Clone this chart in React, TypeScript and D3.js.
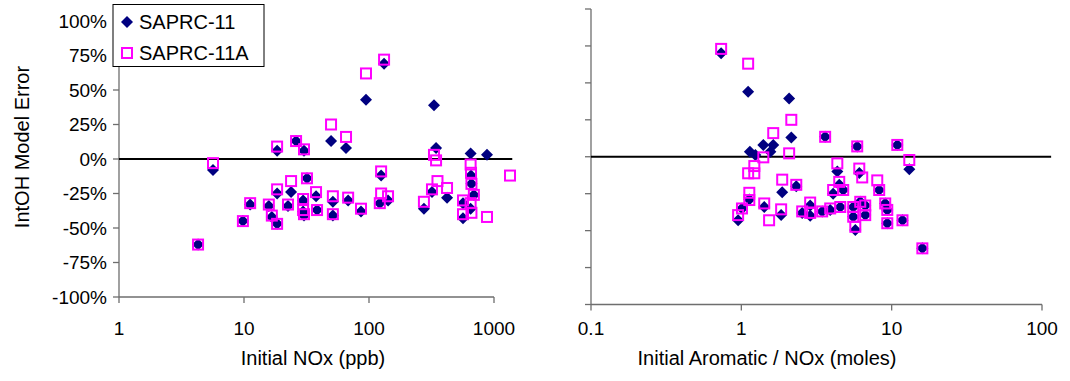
import React from "react";
import * as d3 from "d3";

// ---------- data ----------
// Left panel: Initial NOx (ppb) vs IntOH model error (%)
const leftNOx11 = [4.29, 5.65, 9.8, 11.2, 15.8, 16.7, 18.4, 18.4, 18.4, 23.8, 22.5, 26.1, 30.2, 31.9, 29.7, 29.7, 30.2, 37.7, 38.4, 49.7, 51.4, 51.4, 65.5, 68.1, 86.3, 94.6, 132, 125, 122, 142, 275, 319, 331, 344, 421, 565, 565, 650, 655, 660, 690, 650, 879];
const leftErr11 = [-62, -8, -45, -33, -34, -42, -47, 6, -25, -24, -34, 13, 6, -14, -30, -38, -41, -27, -37, 13, -31, -41, 8, -30, -38, 43, 69, -12, -32, -30, -36, -24, 39, 8, -28, -32, -43, 4, -12, -18, -26, -36, 3];
const leftNOx11A = [4.29, 5.65, 9.8, 11.2, 15.8, 16.7, 18.4, 18.4, 18.4, 23.8, 22.5, 26.1, 30.2, 31.9, 29.7, 29.7, 30.2, 37.7, 38.4, 49.7, 51.4, 51.4, 65.5, 68.1, 86.3, 94.6, 132, 125, 122, 125, 142, 275, 319, 331, 344, 353, 421, 565, 565, 650, 655, 660, 690, 650, 660, 879, 1343];
const leftErr11A = [-62, -3, -45, -32, -33, -41, -47, 9, -22, -16, -33, 13, 7, -14, -29, -37, -40, -24, -37, 25, -27, -40, 16, -28, -36, 62, 72, -9, -32, -25, -27, -31, -22, 3, -1, -16, -21, -30, -40, -4, -10, -18, -26, -32, -39, -42, -12];

// Right panel: Initial Aromatic / NOx (moles) vs IntOH model error (%)
const rightRatio11 = [0.734, 1.11, 2.08, 2.15, 3.61, 1.4, 1.63, 1.14, 1.24, 1.56, 1.87, 2.32, 1.13, 1.01, 0.952, 1.42, 1.84, 2.54, 5.9, 10.9, 4.35, 13.1, 6.09, 8.26, 4.48, 4.08, 4.76, 9.06, 9.35, 9.35, 11.8, 5.73, 3.45, 4.55, 5.55, 6.18, 6.67, 6.67, 5.55, 16.0, 2.87, 2.87, 3.9];
const rightErr11 = [70, 44, 39.5, 13, 13.5, 8, 8, 3.4, 1.2, 3.4, -24, -20, -29, -35, -43, -34, -39.5, -38, 7, 8, -10, -8.5, -11, -22.5, -19, -25, -22.5, -31.6, -36, -45, -43, -49.6, -37, -34, -34, -30.5, -33, -39.5, -40.6, -62, -33, -40, -36];
const rightRatio11A = [0.734, 1.11, 2.15, 1.63, 3.61, 1.4, 2.08, 1.22, 1.11, 1.22, 1.87, 2.32, 1.13, 1.13, 1.01, 0.952, 1.42, 1.53, 1.84, 2.54, 5.9, 10.9, 4.35, 13.1, 6.09, 6.37, 8.02, 8.26, 4.48, 4.08, 4.76, 9.06, 9.35, 9.35, 11.8, 5.73, 3.45, 3.9, 4.55, 5.55, 6.18, 6.67, 6.67, 5.55, 16.0, 2.87, 2.87];
const rightErr11A = [73, 63, 25, 16, 13.5, -0.4, 2.3, -6.3, -11.2, -11.2, -15.5, -19, -24.4, -29.3, -35, -39.5, -31.6, -43, -35.6, -37, 7, 8, -4.5, -2.2, -8, -14, -16, -22.5, -17, -22.5, -22.5, -31.6, -36, -45, -43, -47.4, -37, -35, -34, -34, -30.5, -33, -39.5, -40.6, -62, -31, -38];

const seriesNames = ["SAPRC-11", "SAPRC-11A"];
const yTicks = [-100, -75, -50, -25, 0, 25, 50, 75, 100];
const leftXTicks = [1, 10, 100, 1000];
const rightXTicks = [0.1, 1, 10, 100];
const leftZeroX = [1, 1400];
const rightZeroX = [0.1, 115];
const yTitle = "IntOH Model Error";
const leftXTitle = "Initial NOx (ppb)";
const rightXTitle = "Initial Aromatic / NOx (moles)";

// ---------- styling ----------
const FONT = "'Liberation Sans', Arial, sans-serif";
const NAVY = "#000080";
const MAGENTA = "#FF00FF";
const AXIS = "#6e6e6e";

const xL = d3.scaleLog().domain([1, 1000]).range([119, 494]);
const yL = d3.scaleLinear().domain([-100, 100]).range([297, 21]);
const xR = d3.scaleLog().domain([0.1, 100]).range([591, 1042]);
const yR = d3.scaleLinear().domain([-100, 100]).range([304.5, 9]);

const Diamond = ({ x, y }: { x: number; y: number }) => (
  <path d={`M${x},${y - 6}L${x + 6},${y}L${x},${y + 6}L${x - 6},${y}Z`} fill={NAVY} />
);
const Square = ({ x, y }: { x: number; y: number }) => (
  <rect x={x - 5} y={y - 5} width={10} height={10} fill="none" stroke={MAGENTA} strokeWidth={2} />
);

type Sc = any;

function Panel({ xs, ys, xTicks, zeroX, xVals11, yVals11, xVals11A, yVals11A, yLabels, title, titleX }: {
  xs: Sc; ys: Sc; xTicks: number[]; zeroX: number[]; xVals11: number[]; yVals11: number[];
  xVals11A: number[]; yVals11A: number[]; yLabels: boolean; title: string; titleX: number;
}) {
  const [x0, x1] = xs.range();
  const [yb, yt] = ys.range();
  const zeroLine = d3.line<number>().x((d) => xs(d)).y(() => ys(0));
  return (
    <g>
      {/* y axis */}
      <line x1={x0} x2={x0} y1={yt} y2={yb} stroke={AXIS} strokeWidth={1.3} />
      {yTicks.map((t) => (
        <g key={t}>
          <line x1={x0 - 6} x2={x0} y1={ys(t)} y2={ys(t)} stroke={AXIS} strokeWidth={1.3} />
          {yLabels && (
            <text x={107} y={ys(t)} dy="0.36em" textAnchor="end" fontSize={19} fontFamily={FONT} fill="#000">
              {`${t}%`}
            </text>
          )}
        </g>
      ))}
      {/* x axis */}
      <line x1={x0} x2={x1} y1={yb} y2={yb} stroke={AXIS} strokeWidth={1.3} />
      {xTicks.map((t) => (
        <g key={t}>
          <line x1={xs(t)} x2={xs(t)} y1={yb} y2={yb + 6} stroke={AXIS} strokeWidth={1.3} />
          <text x={xs(t)} y={335} textAnchor="middle" fontSize={19} fontFamily={FONT} fill="#000">
            {String(t)}
          </text>
        </g>
      ))}
      {/* zero line */}
      <path d={zeroLine(zeroX) || ""} stroke="#000" strokeWidth={2} fill="none" />
      {/* series */}
      {xVals11.map((v, i) => (
        <Diamond key={"d" + i} x={xs(v)} y={ys(yVals11[i])} />
      ))}
      {xVals11A.map((v, i) => (
        <Square key={"s" + i} x={xs(v)} y={ys(yVals11A[i])} />
      ))}
      <text x={titleX} y={365} textAnchor="middle" fontSize={20} fontFamily={FONT} fill="#000">
        {title}
      </text>
    </g>
  );
}

export default function App() {
  return (
    <svg width={1070} height={381} style={{ position: "absolute", left: 0, top: 0, background: "#fff" }}>
      <rect x={0} y={0} width={1070} height={381} fill="#fff" />
      <text
        x={28.5}
        y={147}
        transform="rotate(-90 28.5 147)"
        textAnchor="middle"
        fontSize={20}
        fontFamily={FONT}
        fill="#000"
      >
        {yTitle}
      </text>
      <Panel xs={xL} ys={yL} xTicks={leftXTicks} zeroX={leftZeroX} xVals11={leftNOx11} yVals11={leftErr11}
        xVals11A={leftNOx11A} yVals11A={leftErr11A} yLabels={true} title={leftXTitle} titleX={313} />
      <Panel xs={xR} ys={yR} xTicks={rightXTicks} zeroX={rightZeroX} xVals11={rightRatio11} yVals11={rightErr11}
        xVals11A={rightRatio11A} yVals11A={rightErr11A} yLabels={false} title={rightXTitle} titleX={767} />
      {/* legend */}
      <g>
        <rect x={113} y={4.5} width={151} height={62} fill="#fff" stroke="#000" strokeWidth={1} />
        <Diamond x={127} y={22} />
        <text x={139} y={29} fontSize={20} fontFamily={FONT} fill="#000">{seriesNames[0]}</text>
        <Square x={127} y={53} />
        <text x={139} y={60} fontSize={20} fontFamily={FONT} fill="#000">{seriesNames[1]}</text>
      </g>
    </svg>
  );
}
